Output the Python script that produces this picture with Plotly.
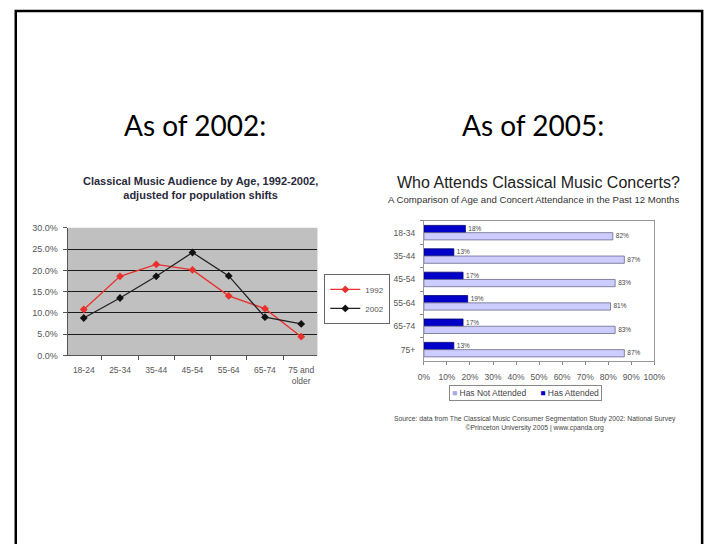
import plotly.graph_objects as go

W, H = 719, 544

# Audience share by age group (percent), 1992 vs 2002
age_groups = ["18-24", "25-34", "35-44", "45-54", "55-64", "65-74", "75 and<br>older"]
share_1992 = [10.8, 18.6, 21.4, 20.1, 14.0, 11.0, 4.4]
share_2002 = [8.8, 13.5, 18.6, 24.2, 18.7, 9.0, 7.4]
share_ticks = [0, 5, 10, 15, 20, 25, 30]

# Concert attendance in the past 12 months by age (percent)
att_groups = ["18-34", "35-44", "45-54", "55-64", "65-74", "75+"]
has_attended = [18, 13, 17, 19, 17, 13]
not_attended = [82, 87, 83, 81, 83, 87]
pct_ticks = list(range(0, 101, 10))

ATT_COLOR = "#0000c8"
NOT_COLOR = "#ccccff"


def px_x(p):
    return p / W


def px_y(p):
    return 1 - p / H


fig = go.Figure()

# Left: line chart
fig.add_trace(go.Scatter(
    x=age_groups, y=share_1992, name="1992", mode="lines+markers",
    line=dict(color="#e8302c", width=1.3),
    marker=dict(symbol="diamond", size=6, color="#e8302c"),
    xaxis="x", yaxis="y", legend="legend",
))
fig.add_trace(go.Scatter(
    x=age_groups, y=share_2002, name="2002", mode="lines+markers",
    line=dict(color="#222222", width=1.3),
    marker=dict(symbol="diamond", size=6, color="#111111"),
    xaxis="x", yaxis="y", legend="legend",
))

# Right: grouped horizontal bars
bar_text_font = dict(family="Liberation Sans", size=8, color="#444")
fig.add_trace(go.Bar(
    y=att_groups, x=has_attended, name="Has Attended", orientation="h",
    marker=dict(color=ATT_COLOR, line=dict(color="#000070", width=0.8)),
    text=[f"{v}%" for v in has_attended], textposition="outside",
    textfont=bar_text_font, cliponaxis=False,
    xaxis="x2", yaxis="y2", showlegend=False,
))
fig.add_trace(go.Bar(
    y=att_groups, x=not_attended, name="Has Not Attended", orientation="h",
    marker=dict(color=NOT_COLOR, line=dict(color="#6a6a8a", width=0.8)),
    text=[f"{v}%" for v in not_attended], textposition="outside",
    textfont=bar_text_font, cliponaxis=False,
    xaxis="x2", yaxis="y2", showlegend=False,
))

tick_font = dict(family="Liberation Sans", size=8.5, color="#555")

fig.update_layout(
    width=W, height=H,
    margin=dict(l=0, r=0, t=0, b=0),
    paper_bgcolor="white", plot_bgcolor="white",
    showlegend=True,
    barmode="group", bargap=0.38, bargroupgap=0,
    xaxis=dict(
        domain=[px_x(63), px_x(319)], anchor="y",
        tickson="boundaries", ticks="outside", ticklen=4, tickcolor="#555",
        showline=True, linecolor="#555", linewidth=1,
        showgrid=False, tickfont=tick_font, ticklabelstandoff=6,
    ),
    yaxis=dict(
        domain=[px_y(357), px_y(227)], anchor="x",
        range=[0, 30], tickmode="array", tickvals=share_ticks,
        ticktext=[f"{v:.1f}%" for v in share_ticks],
        ticks="outside", ticklen=4, tickcolor="#555",
        showline=True, linecolor="#555", linewidth=1,
        showgrid=True, gridcolor="#1a1a1a", gridwidth=1,
        zeroline=False, tickfont=dict(tick_font, size=9), ticklabelstandoff=3,
    ),
    xaxis2=dict(
        domain=[px_x(428), px_x(664)], anchor="y2",
        range=[0, 100], tickmode="array", tickvals=pct_ticks,
        ticktext=[f"{v}%" for v in pct_ticks],
        ticks="outside", ticklen=3, tickcolor="#888",
        showline=True, mirror=True, linecolor="#999", linewidth=1,
        showgrid=False, zeroline=False, tickfont=tick_font, ticklabelstandoff=4,
    ),
    yaxis2=dict(
        domain=[px_y(363), px_y(220)], anchor="x2",
        autorange="reversed", tickson="boundaries",
        ticks="outside", ticklen=3, tickcolor="#888",
        showline=True, mirror=True, linecolor="#999", linewidth=1,
        showgrid=False, tickfont=tick_font, ticklabelstandoff=6,
    ),
    legend=dict(
        x=px_x(326), y=px_y(274), xanchor="left", yanchor="top",
        bgcolor="white", bordercolor="#666", borderwidth=1,
        font=dict(family="Liberation Sans", size=8, color="#555"),
        itemwidth=30, tracegroupgap=0,
    ),
)

# Key for the bar colours
bar_key = (f'<span style="color:#a8a8e8">■</span> Has Not Attended'
           f'      <span style="color:{ATT_COLOR}">■</span> Has Attended')

annotations = [
    dict(text="As of 2002:", x=px_x(194), y=px_y(122),
         font=dict(family="Lato", size=28, color="black")),
    dict(text="As of 2005:", x=px_x(540), y=px_y(122),
         font=dict(family="Lato", size=28, color="black")),
    dict(text="<b>Classical Music Audience by Age, 1992-2002,<br>adjusted for population shifts</b>",
         x=px_x(199), y=px_y(186),
         font=dict(family="Liberation Sans", size=11, color="#2a2a3a")),
    dict(text="Who Attends Classical Music Concerts?", x=px_x(545), y=px_y(181),
         font=dict(family="Liberation Sans", size=16, color="#222")),
    dict(text="A Comparison of Age and Concert Attendance in the Past 12 Months",
         x=px_x(540), y=px_y(198),
         font=dict(family="Liberation Sans", size=9.6, color="#333")),
    dict(text=bar_key, x=px_x(532), y=px_y(395),
         font=dict(family="Liberation Sans", size=8.5, color="#444"),
         bordercolor="#888", borderwidth=1, borderpad=2, bgcolor="white"),
    dict(text="Source: data from The Classical Music Consumer Segmentation Study 2002: National Survey"
              "<br>©Princeton University 2005 | www.cpanda.org",
         x=px_x(542), y=px_y(426),
         font=dict(family="Liberation Sans", size=6.8, color="#444")),
]
for a in annotations:
    a.update(xref="paper", yref="paper", showarrow=False, xanchor="center", yanchor="middle")
fig.update_layout(annotations=annotations)

# Slide frame
fig.add_shape(type="rect", xref="paper", yref="paper",
              x0=px_x(10), x1=px_x(713), y0=px_y(560), y1=px_y(6),
              line=dict(color="black", width=2.5), fillcolor="rgba(0,0,0,0)", layer="above")

# Gray plot area for the line chart
fig.add_shape(type="rect", xref="x domain", yref="y domain", x0=0, x1=1, y0=0, y1=1,
              fillcolor="#c0c0c0", line=dict(width=0), layer="below")

fig.write_html("out.html")
